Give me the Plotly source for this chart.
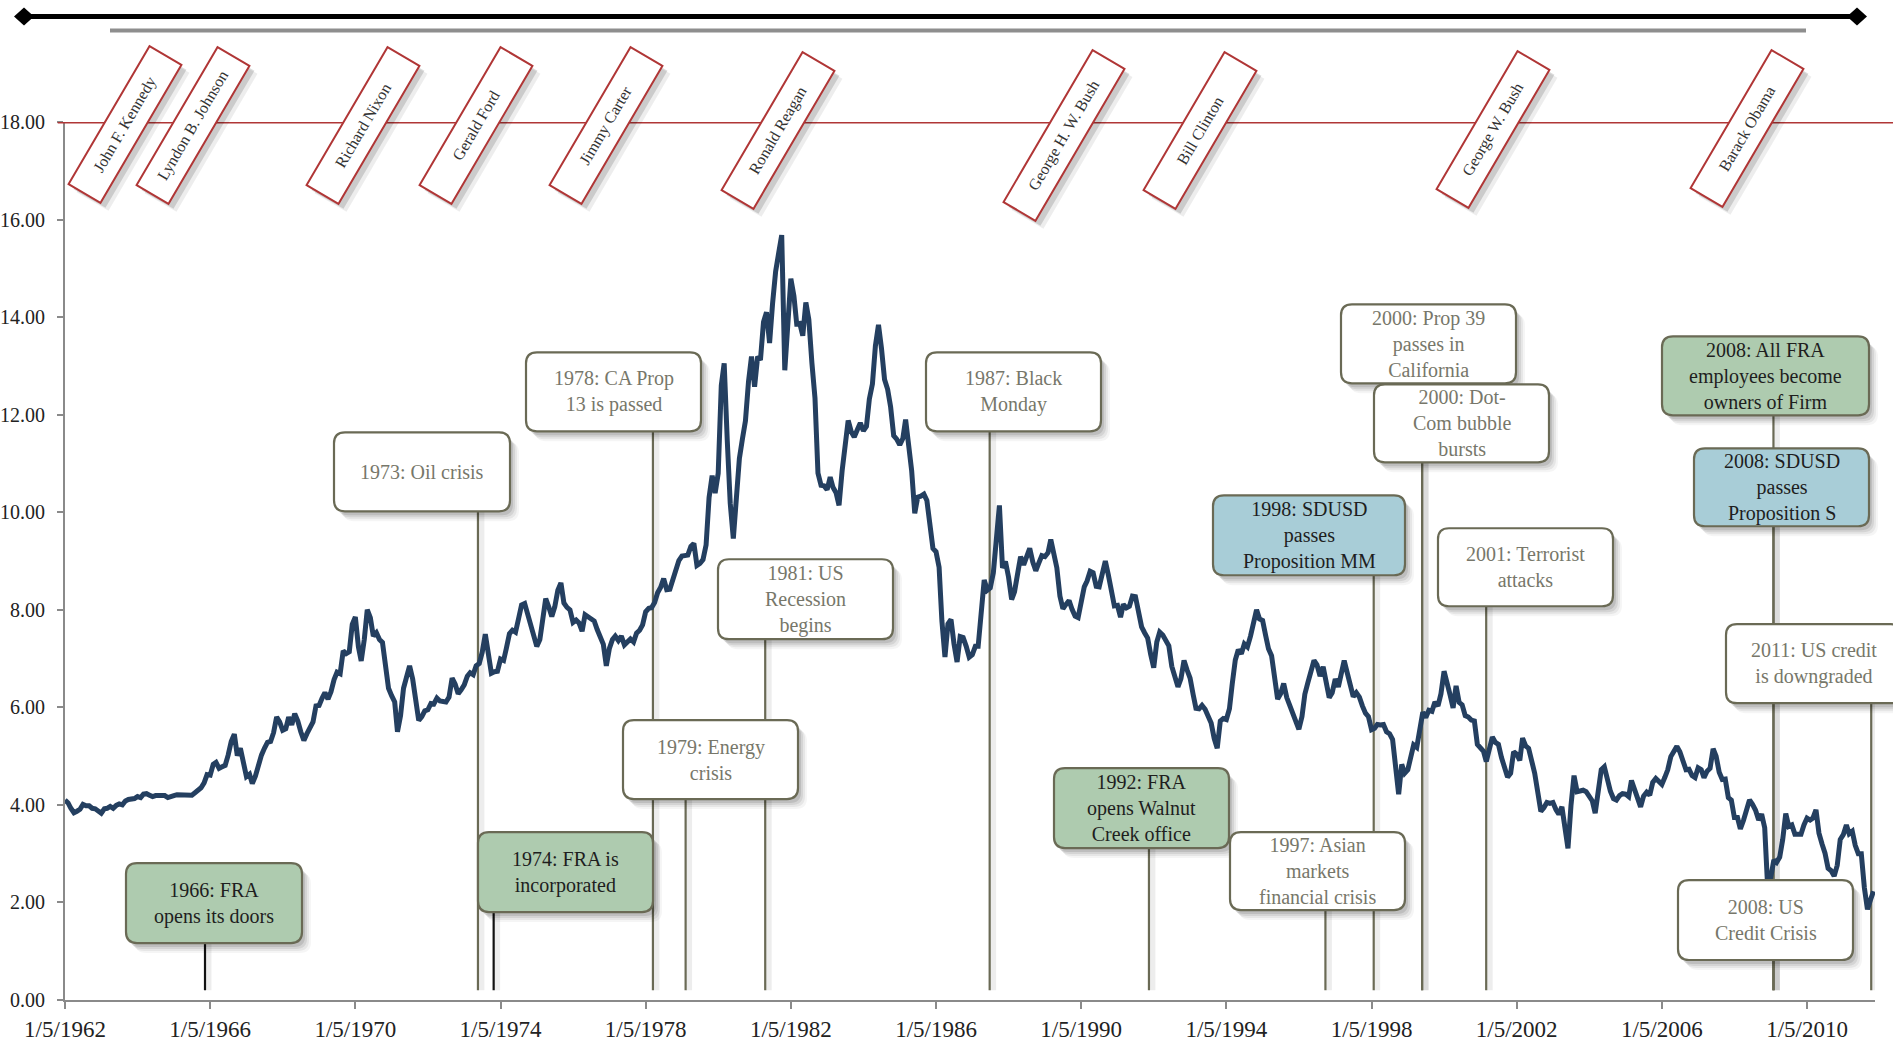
import plotly.graph_objects as go
import pandas as pd

# ------------------------------------------------------------------ data
# monthly rate readings (%), one row per year
rates_1960s = [
    4.10, 4.04, 3.93, 3.84, 3.87, 3.91, 4.01, 3.98, 3.98, 3.93, 3.92, 3.86,   # 1962
    3.83, 3.92, 3.93, 3.97, 3.93, 3.99, 4.02, 4.00, 4.08, 4.11, 4.12, 4.13,   # 1963
    4.17, 4.15, 4.22, 4.23, 4.20, 4.17, 4.19, 4.19, 4.20, 4.19, 4.15, 4.18,   # 1964
    4.19, 4.21, 4.21, 4.20, 4.21, 4.21, 4.20, 4.25, 4.29, 4.35, 4.45, 4.62,   # 1965
    4.61, 4.83, 4.87, 4.75, 4.78, 4.81, 5.02, 5.30, 5.45, 5.01, 5.16, 4.84,   # 1966
    4.58, 4.63, 4.44, 4.59, 4.85, 5.02, 5.16, 5.28, 5.30, 5.48, 5.80, 5.70,   # 1967
    5.53, 5.56, 5.80, 5.64, 5.87, 5.72, 5.50, 5.32, 5.46, 5.58, 5.70, 6.03,   # 1968
    6.04, 6.19, 6.30, 6.17, 6.32, 6.57, 6.72, 6.69, 7.16, 7.10, 7.14, 7.70,   # 1969
]
rates_1970s = [
    7.85, 7.24, 6.95, 7.39, 8.00, 7.84, 7.46, 7.53, 7.39, 7.33, 6.84, 6.39,   # 1970
    6.24, 6.11, 5.50, 5.83, 6.39, 6.60, 6.85, 6.58, 6.14, 5.73, 5.81, 5.93,   # 1971
    5.95, 6.08, 6.07, 6.19, 6.13, 6.11, 6.11, 6.21, 6.60, 6.48, 6.28, 6.36,   # 1972
    6.46, 6.64, 6.71, 6.67, 6.85, 6.90, 7.13, 7.50, 7.09, 6.70, 6.73, 6.74,   # 1973
    6.99, 6.96, 7.21, 7.51, 7.58, 7.54, 7.81, 8.10, 8.13, 7.90, 7.68, 7.43,   # 1974
    7.25, 7.39, 7.73, 8.23, 8.06, 7.86, 8.06, 8.40, 8.55, 8.14, 8.05, 8.00,   # 1975
    7.74, 7.79, 7.73, 7.56, 7.90, 7.86, 7.83, 7.77, 7.59, 7.41, 7.29, 6.85,   # 1976
    7.21, 7.39, 7.46, 7.37, 7.46, 7.28, 7.33, 7.40, 7.34, 7.52, 7.58, 7.69,   # 1977
    7.96, 8.03, 8.04, 8.15, 8.35, 8.46, 8.64, 8.41, 8.42, 8.64, 8.81, 9.01,   # 1978
    9.10, 9.10, 9.12, 9.30, 9.36, 8.91, 8.95, 9.03, 9.33, 10.30, 10.75, 10.39,  # 1979
]
rates_1980s = [
    10.80, 12.60, 13.05, 11.47, 10.18, 9.46, 10.25, 11.10, 11.51, 11.87, 12.68, 13.19,  # 1980
    12.57, 13.19, 13.12, 13.90, 14.10, 13.47, 14.28, 14.94, 15.32, 15.68, 12.91, 13.72,  # 1981
    14.79, 14.43, 13.86, 13.87, 13.62, 14.30, 13.95, 13.06, 12.34, 10.80, 10.55, 10.54,  # 1982
    10.46, 10.72, 10.51, 10.40, 10.14, 10.85, 11.38, 11.88, 11.65, 11.54, 11.69, 11.83,  # 1983
    11.67, 11.76, 12.32, 12.63, 13.41, 13.84, 13.36, 12.72, 12.52, 12.16, 11.57, 11.50,  # 1984
    11.38, 11.51, 11.90, 11.43, 10.85, 9.98, 10.31, 10.33, 10.37, 10.24, 9.63, 9.26,     # 1985
    9.19, 8.87, 7.78, 7.03, 7.71, 7.80, 7.30, 6.93, 7.45, 7.43, 7.25, 7.03,              # 1986
    7.08, 7.25, 7.25, 8.02, 8.61, 8.40, 8.45, 8.76, 9.42, 10.14, 8.86, 8.99,             # 1987
    8.67, 8.21, 8.37, 8.72, 9.09, 8.92, 9.06, 9.26, 8.98, 8.80, 8.96, 9.11,              # 1988
    9.09, 9.17, 9.44, 9.18, 8.86, 8.28, 8.02, 8.11, 8.19, 8.01, 7.87, 7.84,              # 1989
]
rates_1990s = [
    8.21, 8.47, 8.59, 8.79, 8.76, 8.48, 8.47, 8.75, 9.00, 8.72, 8.39, 8.08,   # 1990
    8.09, 7.85, 8.11, 8.04, 8.07, 8.28, 8.27, 7.90, 7.65, 7.53, 7.42, 7.09,   # 1991
    6.81, 7.34, 7.54, 7.48, 7.39, 7.26, 6.84, 6.59, 6.42, 6.59, 6.96, 6.77,   # 1992
    6.60, 6.26, 5.98, 5.97, 6.04, 5.96, 5.81, 5.68, 5.36, 5.16, 5.72, 5.77,   # 1993
    5.75, 5.97, 6.48, 6.97, 7.18, 7.10, 7.30, 7.24, 7.46, 7.74, 8.00, 7.81,   # 1994
    7.78, 7.47, 7.20, 7.06, 6.63, 6.17, 6.28, 6.49, 6.20, 6.04, 5.93, 5.71,   # 1995
    5.55, 5.81, 6.27, 6.51, 6.74, 6.96, 6.87, 6.64, 6.83, 6.53, 6.20, 6.30,   # 1996
    6.58, 6.42, 6.69, 6.96, 6.71, 6.49, 6.22, 6.30, 6.21, 6.03, 5.88, 5.81,   # 1997
    5.54, 5.57, 5.65, 5.64, 5.65, 5.50, 5.46, 5.34, 4.81, 4.22, 4.83, 4.65,   # 1998
    4.72, 5.00, 5.23, 5.18, 5.54, 5.90, 5.79, 5.94, 5.92, 6.11, 6.03, 6.28,   # 1999
]
rates_2000s = [
    6.74, 6.52, 6.26, 5.99, 6.44, 6.10, 6.05, 5.83, 5.80, 5.74, 5.72, 5.24,   # 2000
    5.16, 5.10, 4.89, 5.14, 5.39, 5.28, 5.24, 4.97, 4.73, 4.57, 4.65, 5.09,   # 2001
    5.04, 4.91, 5.37, 5.21, 5.16, 4.93, 4.65, 4.26, 3.87, 3.94, 4.05, 4.03,   # 2002
    4.05, 3.90, 3.81, 3.96, 3.57, 3.11, 3.98, 4.60, 4.27, 4.29, 4.30, 4.27,   # 2003
    4.15, 4.08, 3.83, 4.35, 4.72, 4.78, 4.50, 4.28, 4.13, 4.10, 4.19, 4.23,   # 2004
    4.22, 4.17, 4.50, 4.34, 4.14, 3.96, 4.18, 4.26, 4.20, 4.46, 4.54, 4.47,   # 2005
    4.42, 4.57, 4.72, 4.99, 5.11, 5.20, 5.09, 4.88, 4.72, 4.73, 4.60, 4.56,   # 2006
    4.76, 4.72, 4.56, 4.69, 4.75, 5.15, 5.00, 4.67, 4.52, 4.53, 4.15, 4.10,   # 2007
    3.74, 3.74, 3.51, 3.68, 3.88, 4.10, 4.01, 3.89, 3.69, 3.81, 3.53, 2.30,   # 2008
    2.52, 2.87, 2.82, 2.93, 3.29, 3.82, 3.56, 3.59, 3.40, 3.39, 3.40, 3.59,   # 2009
]
rates_2010s = [
    3.73, 3.69, 3.73, 3.90, 3.42, 3.20, 3.01, 2.70, 2.65, 2.54, 2.76, 3.29,   # 2010
    3.39, 3.59, 3.41, 3.46, 3.17, 3.00, 3.00, 2.30, 1.86, 2.05, 2.23,         # 2011 (Jan-Nov)
]
series_first_month = "1962-01-01"

tick_dates = ["1962-01-05", "1966-01-05", "1970-01-05", "1974-01-05", "1978-01-05",
              "1982-01-05", "1986-01-05", "1990-01-05", "1994-01-05", "1998-01-05",
              "2002-01-05", "2006-01-05", "2010-01-05"]
tick_labels = ["1/5/1962", "1/5/1966", "1/5/1970", "1/5/1974", "1/5/1978", "1/5/1982",
               "1/5/1986", "1/5/1990", "1/5/1994", "1/5/1998", "1/5/2002", "1/5/2006",
               "1/5/2010"]
y_ticks = [0, 2, 4, 6, 8, 10, 12, 14, 16, 18]
president_line_value = 18

presidents = ["John F. Kennedy", "Lyndon B. Johnson", "Richard Nixon", "Gerald Ford",
              "Jimmy Carter", "Ronald Reagan", "George H. W. Bush", "Bill Clinton",
              "George W. Bush", "Barack Obama"]

event_texts = [
    "1966: FRA<br>opens its doors",
    "1973: Oil crisis",
    "1974: FRA is<br>incorporated",
    "1978: CA Prop<br>13 is passed",
    "1979: Energy<br>crisis",
    "1981: US<br>Recession<br>begins",
    "1987: Black<br>Monday",
    "1992: FRA<br>opens Walnut<br>Creek office",
    "1997: Asian<br>markets<br>financial crisis",
    "1998: SDUSD<br>passes<br>Proposition MM",
    "2000: Prop 39<br>passes in<br>California",
    "2000: Dot-<br>Com bubble<br>bursts",
    "2001: Terrorist<br>attacks",
    "2008: All FRA<br>employees become<br>owners of Firm",
    "2008: SDUSD<br>passes<br>Proposition S",
    "2011: US credit<br>is downgraded",
    "2008: US<br>Credit Crisis",
]
event_dates = ["1965-11-14", "1973-05-23", "1973-10-28", "1978-03-19", "1979-02-11",
               "1981-04-22", "1987-06-29", "1991-11-18", "1996-09-28", "1998-01-27",
               "1999-05-29", "1999-05-29", "2001-03-04", "2009-02-01", "2009-02-01",
               "2011-10-13", "2009-02-01"]
event_groups = ["FRA", "World", "FRA", "World", "World", "World", "World", "FRA", "World",
                "SDUSD", "World", "World", "World", "FRA", "SDUSD", "World", "World"]
leader_bottom_value = 0.2

# ------------------------------------------------------------------ layout geometry (pixels)
W, H = 1893, 1052
L, R, T, B = 65.0, 1875.0, 121.5, 1000.0

# event box rectangles (x0, y0, x1, y1) in canvas pixels
event_boxes = [
    (126, 863, 302, 943), (334, 432, 510, 511), (478, 832, 653, 912), (526, 352, 701, 431),
    (623, 720, 798, 799), (718, 559, 893, 639), (926, 352, 1101, 431), (1054, 768, 1229, 848),
    (1230, 832, 1405, 910), (1213, 495, 1405, 575), (1341, 304, 1516, 383), (1374, 384, 1549, 462),
    (1438, 528, 1613, 606), (1662, 336, 1869, 415), (1694, 448, 1869, 526), (1726, 624, 1902, 703),
    (1678, 880, 1853, 960),
]
leader_colors = ["#111111", None, "#111111"] + [None] * 14

# president label centres (canvas pixels) and box lengths
president_centres = [(125, 124), (193, 125), (363, 125), (476, 125), (606, 125),
                     (778, 130), (1064, 135), (1200, 130), (1493, 129), (1747, 128)]
president_lengths = [158, 158, 158, 158, 158, 158, 174, 158, 158, 158]

FONT = "Liberation Serif"
OLIVE = "#6a6a55"
NAVY = "#243f60"
RED = "#b03636"
FILL = {"FRA": "#aecbaf", "SDUSD": "#a8cdd7", "World": "#ffffff"}
TEXTC = {"FRA": "#1e1e1e", "SDUSD": "#1e1e1e", "World": "#77776a"}


def PX(x):
    return (x - L) / (R - L)


def PY(y):
    return (B - y) / (B - T)


def rrect(x0, y0, x1, y1, r=11):
    pts = [
        ("M", [(x0 + r, y0)]), ("L", [(x1 - r, y0)]), ("Q", [(x1, y0), (x1, y0 + r)]),
        ("L", [(x1, y1 - r)]), ("Q", [(x1, y1), (x1 - r, y1)]), ("L", [(x0 + r, y1)]),
        ("Q", [(x0, y1), (x0, y1 - r)]), ("L", [(x0, y0 + r)]), ("Q", [(x0, y0), (x0 + r, y0)]),
    ]
    s = ""
    for cmd, ps in pts:
        s += cmd + " " + " ".join(f"{PX(a):.5f},{PY(b):.5f}" for a, b in ps) + " "
    return s + "Z"


# ------------------------------------------------------------------ figure
rates = rates_1960s + rates_1970s + rates_1980s + rates_1990s + rates_2000s + rates_2010s
dates = pd.date_range(series_first_month, periods=len(rates), freq="MS") + pd.Timedelta(days=4)

fig = go.Figure()
fig.add_trace(go.Scatter(x=dates, y=rates, mode="lines",
                         line=dict(color=NAVY, width=5), hoverinfo="skip", showlegend=False))

shapes = []
annotations = []

# leader lines (behind the series)
for i, d in enumerate(event_dates):
    x0, y0, x1, y1 = event_boxes[i]
    top_val = (B - y1) / (B - T) * 18
    dt = pd.Timestamp(d)
    shadow_dt = dt + pd.Timedelta(days=35)
    shapes.append(dict(type="line", xref="x", yref="y", x0=shadow_dt, x1=shadow_dt,
                       y0=leader_bottom_value, y1=top_val, layer="below",
                       line=dict(color="rgba(0,0,0,0.07)", width=6)))
    shapes.append(dict(type="line", xref="x", yref="y", x0=dt, x1=dt,
                       y0=leader_bottom_value, y1=top_val, layer="below",
                       line=dict(color=leader_colors[i] or OLIVE, width=2.2)))

# event boxes with soft shadow
for i, txt in enumerate(event_texts):
    x0, y0, x1, y1 = event_boxes[i]
    for off, a in [(3, 0.10), (5, 0.08), (7, 0.06), (9, 0.04)]:
        shapes.append(dict(type="path", xref="paper", yref="paper", layer="above",
                           path=rrect(x0 + off, y0 + off + 1, x1 + off, y1 + off + 1),
                           fillcolor=f"rgba(0,0,0,{a})", line=dict(width=0)))
    g = event_groups[i]
    shapes.append(dict(type="path", xref="paper", yref="paper", layer="above",
                       path=rrect(x0, y0, x1, y1), fillcolor=FILL[g],
                       line=dict(color=OLIVE, width=2.2)))
    annotations.append(dict(x=PX((x0 + x1) / 2), y=PY((y0 + y1) / 2), xref="paper", yref="paper",
                            text=txt, showarrow=False, xanchor="center", yanchor="middle",
                            align="center", font=dict(family=FONT, size=20, color=TEXTC[g])))

# president timeline line at 18
shapes.append(dict(type="line", xref="paper", yref="y", x0=-0.004, x1=PX(W + 5),
                   y0=president_line_value, y1=president_line_value, layer="above",
                   line=dict(color=RED, width=3)))

# top decorative rules
ty = 16
shapes.append(dict(type="line", xref="paper", yref="paper", x0=PX(26), x1=PX(1855),
                   y0=PY(ty), y1=PY(ty), line=dict(color="black", width=5)))
for cx in (24, 1857):
    p = (f"M {PX(cx-10):.5f},{PY(ty):.5f} L {PX(cx):.5f},{PY(ty-9):.5f} "
         f"L {PX(cx+10):.5f},{PY(ty):.5f} L {PX(cx):.5f},{PY(ty+9):.5f} Z")
    shapes.append(dict(type="path", xref="paper", yref="paper", path=p,
                       fillcolor="black", line=dict(width=0)))
shapes.append(dict(type="line", xref="paper", yref="paper", x0=PX(110), x1=PX(1806),
                   y0=PY(30), y1=PY(30), line=dict(color="#8e8e8e", width=4)))

# president labels (rotated boxes)
ang = -59.6
for i, name in enumerate(presidents):
    cx, cy = president_centres[i]
    ln = president_lengths[i]
    for off, a in [(5, 0.14), (8, 0.07)]:
        annotations.append(dict(x=PX(cx + off), y=PY(cy + off), xref="paper", yref="paper",
                                text=name, showarrow=False, textangle=ang, width=ln, height=35,
                                xanchor="center", yanchor="middle", borderpad=0, borderwidth=2,
                                bordercolor="rgba(0,0,0,0)", bgcolor=f"rgba(0,0,0,{a})",
                                font=dict(family=FONT, size=16, color="rgba(0,0,0,0)")))
    annotations.append(dict(x=PX(cx), y=PY(cy), xref="paper", yref="paper", text=name,
                            showarrow=False, textangle=ang, width=ln, height=35,
                            xanchor="center", yanchor="middle", borderpad=0, borderwidth=2,
                            bordercolor=RED, bgcolor="white",
                            font=dict(family=FONT, size=16, color="#333333")))

fig.update_layout(
    width=W, height=H,
    margin=dict(l=L, r=W - R, t=T, b=H - B, pad=0, autoexpand=False),
    paper_bgcolor="white", plot_bgcolor="white",
    showlegend=False,
    shapes=shapes, annotations=annotations,
    xaxis=dict(type="date", range=["1962-01-05", "2011-11-20"], tickvals=tick_dates,
               ticktext=tick_labels, showgrid=False, zeroline=False, showline=True,
               automargin=False,
               linecolor="#8a8a8a", linewidth=2, ticks="outside", ticklen=7, tickwidth=2,
               tickcolor="#8a8a8a", tickfont=dict(family=FONT, size=23, color="#222222")),
    yaxis=dict(range=[0, 18], tickvals=y_ticks, tickformat=".2f", showgrid=False,
               zeroline=False, showline=True, linecolor="#8a8a8a", linewidth=2,
               automargin=False,
               ticks="outside", ticklen=6, tickwidth=2, tickcolor="#8a8a8a",
               ticklabelstandoff=8,
               tickfont=dict(family=FONT, size=20, color="#222222")),
)

fig.write_html("out.html", config={"displayModeBar": False},
               post_script="document.body.style.margin='0';document.body.style.overflow='hidden';")
